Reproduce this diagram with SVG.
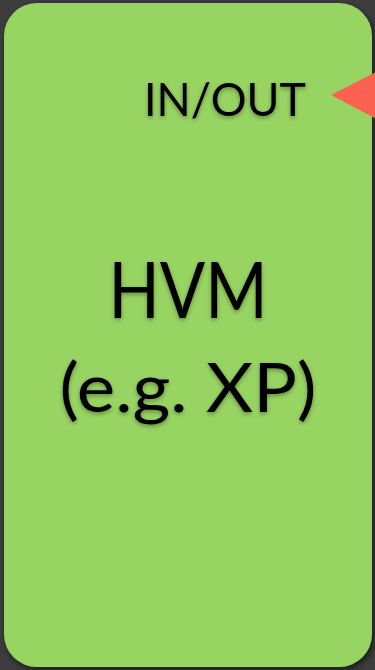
<svg xmlns="http://www.w3.org/2000/svg" width="375" height="670" viewBox="0 0 375 670">
<defs>
<filter id="boxShadow" x="-10%" y="-10%" width="130%" height="130%">
<feDropShadow dx="2" dy="3" stdDeviation="3" flood-color="#000" flood-opacity="0.6"/>
</filter>
<filter id="textShadow" x="-10%" y="-20%" width="120%" height="150%">
<feDropShadow dx="0" dy="2" stdDeviation="2" flood-color="#000" flood-opacity="0.35"/>
</filter>
</defs>
<style>
.lbl{font-family:Lato,"Open Sans","Liberation Sans",sans-serif;fill:#000;filter:url(#textShadow)}
.big{text-anchor:middle}
.port{font-size:46px;text-anchor:end}
</style>
<rect x="0" y="0" width="375" height="670" fill="#3c3c3c"/>
<g id="hvm">
<rect x="4" y="3" width="368" height="664" rx="33" ry="33" fill="#98d462" filter="url(#boxShadow)"/>
<text class="lbl big" x="188" y="318" font-size="77" textLength="159" lengthAdjust="spacingAndGlyphs">HVM</text>
<text class="lbl big" x="188" y="412" font-size="68" textLength="257" lengthAdjust="spacingAndGlyphs">(e.g. XP)</text>
</g>
<g id="port-inout">
<text class="lbl port" x="306" y="116" textLength="162" lengthAdjust="spacingAndGlyphs">IN/OUT</text>
<polygon points="331,95 380,70 380,121" fill="#fc6251"/>
</g>
<g id="connectors"/>
</svg>
